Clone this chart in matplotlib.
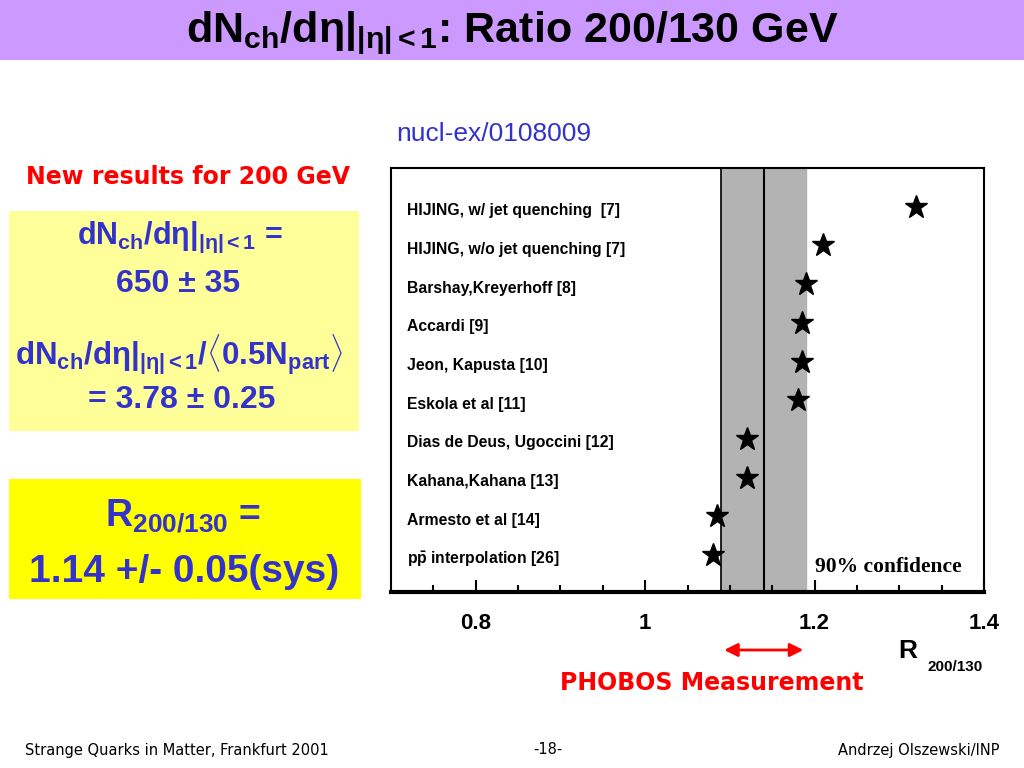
"""
PHOBOS dN/deta ratio 200/130 GeV compared with model predictions.
"""

import matplotlib
matplotlib.use("Agg")
import matplotlib.pyplot as plt
from matplotlib.patches import Rectangle, FancyArrowPatch
from matplotlib.transforms import blended_transform_factory

# model predictions for R_200/130 (top to bottom)
models = [
    "HIJING, w/ jet quenching  [7]",
    "HIJING, w/o jet quenching [7]",
    "Barshay,Kreyerhoff [8]",
    "Accardi [9]",
    "Jeon, Kapusta [10]",
    "Eskola et al [11]",
    "Dias de Deus, Ugoccini [12]",
    "Kahana,Kahana [13]",
    "Armesto et al [14]",
    r"$\mathbf{p\bar{p}}$ interpolation [26]",
]
r_values = [1.32, 1.21, 1.19, 1.185, 1.185, 1.18, 1.12, 1.12, 1.085, 1.08]

# PHOBOS measurement
r_measured = 1.14
r_sys = 0.05

x_ticks = [0.8, 1.0, 1.2, 1.4]
x_tick_labels = ["0.8", "1", "1.2", "1.4"]
x_minor = [0.75, 0.85, 0.9, 0.95, 1.05, 1.1, 1.15, 1.25, 1.3, 1.35]

SANS = "Liberation Sans"
BLUE = "#3333cc"

plt.rcParams["mathtext.fontset"] = "custom"
plt.rcParams["mathtext.bf"] = SANS + ":bold"
plt.rcParams["mathtext.sf"] = SANS + ":bold"
plt.rcParams["mathtext.rm"] = SANS
plt.rcParams["mathtext.it"] = SANS + ":italic"

W, H = 1024, 768
fig = plt.figure(figsize=(W / 100, H / 100), dpi=100)


def fx(px):
    return px / W


def fy(py):
    return 1 - py / H


# ------------------------------------------------------------------ #
# Title bar
# ------------------------------------------------------------------ #
fig.patches.append(Rectangle((0, fy(60)), 1, 60 / H, transform=fig.transFigure,
                             facecolor="#cc99ff", edgecolor="none", zorder=0))
fig.text(0.5, fy(33), r"$\mathbf{dN_{ch}/d\eta|_{|\eta|<1}}$: Ratio 200/130 GeV",
         ha="center", va="center", fontsize=31, fontfamily=SANS, fontweight="bold")

# ------------------------------------------------------------------ #
# Left side boxes
# ------------------------------------------------------------------ #
fig.text(fx(188), fy(177), "New results for 200 GeV", ha="center", va="center",
         fontsize=17, fontweight="bold", color="red", fontfamily="DejaVu Sans")

fig.patches.append(Rectangle((fx(9), fy(431)), fx(350), 220 / H, transform=fig.transFigure,
                             facecolor="#ffff99", edgecolor="none", zorder=0))
box_kw = dict(ha="center", va="center", color=BLUE, fontfamily=SANS, fontweight="bold")
fig.text(fx(180), fy(237), r"$\mathsf{dN_{ch}/d\eta|_{|\eta|<1}}$ =", fontsize=22, **box_kw)
fig.text(fx(178), fy(284), "650 \u00b1 35", fontsize=23, **box_kw)
fig.text(fx(179), fy(355), r"$\mathsf{dN_{ch}/d\eta|_{|\eta|<1}/\langle 0.5N_{part}\rangle}$",
         fontsize=22.5, **box_kw)
fig.text(fx(182), fy(400), "= 3.78 \u00b1 0.25", fontsize=23, **box_kw)

fig.patches.append(Rectangle((fx(9), fy(599)), fx(352), 120 / H, transform=fig.transFigure,
                             facecolor="#ffff00", edgecolor="none", zorder=0))
fig.text(fx(183), fy(516), r"$\mathsf{R_{200/130}}$ =", fontsize=27, **box_kw)
fig.text(fx(184), fy(572), "1.14 +/- 0.05(sys)", fontsize=28, **box_kw)

# ------------------------------------------------------------------ #
# Comparison plot
# ------------------------------------------------------------------ #
fig.text(fx(396), fy(134), "nucl-ex/0108009", ha="left", va="center",
         fontsize=19, color=BLUE, fontfamily=SANS)

ax = fig.add_axes([fx(391), fy(592), fx(984 - 391), (592 - 168) / H])
rows = list(range(len(models)))

ax.axvspan(r_measured - r_sys, r_measured + r_sys, color="#b3b3b3", zorder=1)
ax.axvline(r_measured - r_sys, color="black", lw=1.2, zorder=2)
ax.axvline(r_measured, color="black", lw=1.5, zorder=2)
ax.plot(r_values, rows, linestyle="none", marker="*", markersize=17,
        color="black", zorder=3)

lab_tr = blended_transform_factory(ax.transAxes, ax.transData)
for i, name in enumerate(models):
    ax.text(0.027, i + 0.1, name, transform=lab_tr, ha="left", va="center",
            fontsize=11.3, fontfamily=SANS, fontweight="bold")

ax.text(1.2, 9.3, "90% confidence", ha="left", va="center",
        fontsize=15.5, fontfamily="Liberation Serif", fontweight="bold")

ax.set_xlim(0.7, 1.4)
ax.set_ylim(9.95, -1.0)
ax.set_yticks([])
ax.set_xticks(x_ticks)
ax.set_xticklabels(x_tick_labels, fontfamily=SANS, fontweight="bold", fontsize=16)
ax.set_xticks(x_minor, minor=True)
ax.tick_params(axis="x", which="major", direction="in", length=9, width=1.5, pad=15)
ax.tick_params(axis="x", which="minor", direction="in", length=5, width=1.5)
for side in ["left", "right", "top"]:
    ax.spines[side].set_linewidth(1.5)
ax.spines["bottom"].set_linewidth(3)

# axis title: R_200/130
fig.text(fx(908), fy(651), "R", ha="center", va="center", fontsize=19,
         fontfamily=SANS, fontweight="bold")
fig.text(fx(955), fy(667), "200/130", ha="center", va="center", fontsize=11,
         fontfamily=SANS, fontweight="bold")

# PHOBOS measurement arrow
arr_tr = blended_transform_factory(ax.transData, fig.transFigure)
fig.add_artist(FancyArrowPatch((r_measured - r_sys, fy(650)), (r_measured + r_sys, fy(650)),
                               transform=arr_tr, arrowstyle="<|-|>", mutation_scale=20,
                               color="red", lw=2))
fig.text(fx(712), fy(683), "PHOBOS Measurement", ha="center", va="center",
         fontsize=17, fontweight="bold", color="red", fontfamily="DejaVu Sans")

# ------------------------------------------------------------------ #
# Footer
# ------------------------------------------------------------------ #
foot_kw = dict(va="center", fontsize=10.5, fontfamily="DejaVu Sans")
fig.text(fx(25), fy(750), "Strange Quarks in Matter, Frankfurt 2001", ha="left", **foot_kw)
fig.text(fx(548), fy(750), "-18-", ha="center", **foot_kw)
fig.text(fx(1000), fy(750), "Andrzej Olszewski/INP", ha="right", **foot_kw)

fig.savefig("out.png", dpi=100)
